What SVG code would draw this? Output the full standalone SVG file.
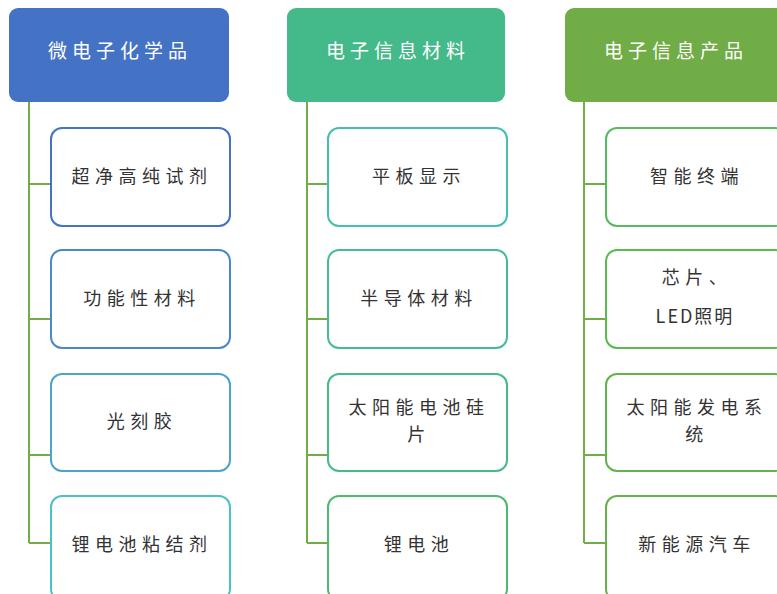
<svg xmlns="http://www.w3.org/2000/svg" width="777" height="594" viewBox="0 0 777 594">
<style>
.hd{stroke:none}
.ht{fill:#ffffff;font-family:"Noto Sans CJK SC","Liberation Sans",sans-serif;font-size:19px;letter-spacing:5px;text-anchor:middle}
.bx{fill:#ffffff;stroke-width:2}
.bt{fill:#333333;font-family:"Noto Sans CJK SC","Liberation Sans",sans-serif;font-size:18px;letter-spacing:5.5px;text-anchor:middle}
.cn{fill:none;stroke:#70AD47;stroke-width:2}
</style>
<rect width="777" height="594" fill="#ffffff"/>
<g id="connectors">
<path class="cn" d="M29 102V543M29 184H51M29 319H51M29 455H51M29 543H51"/>
<path class="cn" d="M307 102V543M307 184H328M307 319H328M307 455H328M307 543H328"/>
<path class="cn" d="M584 102V543M584 184H606M584 319H606M584 455H606M584 543H606"/>
</g>
<g id="h1"><rect class="hd" x="9" y="8" width="220" height="94" rx="9" fill="#4472C4"/><text class="ht" x="120" y="58">微电子化学品</text></g>
<g id="h2"><rect class="hd" x="287" y="8" width="218" height="94" rx="9" fill="#44B98A"/><text class="ht" x="398" y="58">电子信息材料</text></g>
<g id="h3"><rect class="hd" x="565" y="8" width="220" height="94" rx="9" fill="#70AD47"/><text class="ht" x="676" y="58">电子信息产品</text></g>

<g id="c1a"><rect class="bx" x="51" y="128" width="179" height="98" rx="11" stroke="#4472C4"/><text class="bt" x="142" y="183">超净高纯试剂</text></g>
<g id="c1b"><rect class="bx" x="51" y="250" width="179" height="98" rx="11" stroke="#4A88C9"/><text class="bt" x="142" y="305">功能性材料</text></g>
<g id="c1c"><rect class="bx" x="51" y="374" width="179" height="97" rx="11" stroke="#4BA5C9"/><text class="bt" x="142" y="428">光刻胶</text></g>
<g id="c1d"><rect class="bx" x="51" y="496" width="179" height="104" rx="11" stroke="#4BC1C6"/><text class="bt" x="142" y="551">锂电池粘结剂</text></g>

<g id="c2a"><rect class="bx" x="328" y="128" width="179" height="98" rx="11" stroke="#45BFAE"/><text class="bt" x="419" y="183">平板显示</text></g>
<g id="c2b"><rect class="bx" x="328" y="250" width="179" height="98" rx="11" stroke="#45BC98"/><text class="bt" x="419" y="305">半导体材料</text></g>
<g id="c2c"><rect class="bx" x="328" y="374" width="179" height="97" rx="11" stroke="#45BB88"/><text class="bt" x="419" y="414">太阳能电池硅</text><text class="bt" x="419" y="441">片</text></g>
<g id="c2d"><rect class="bx" x="328" y="496" width="179" height="104" rx="11" stroke="#4DBB6E"/><text class="bt" x="419" y="551">锂电池</text></g>

<g id="c3a"><rect class="bx" x="606" y="128" width="180" height="98" rx="11" stroke="#55BB5E"/><text class="bt" x="697" y="183">智能终端</text></g>
<g id="c3b"><rect class="bx" x="606" y="250" width="180" height="98" rx="11" stroke="#5CB950"/><text class="bt" x="697" y="284">芯片、</text><text class="bt" x="695" y="323" style="letter-spacing:2px">LED照明</text></g>
<g id="c3c"><rect class="bx" x="606" y="374" width="180" height="97" rx="11" stroke="#63B34C"/><text class="bt" x="697" y="414">太阳能发电系</text><text class="bt" x="697" y="441">统</text></g>
<g id="c3d"><rect class="bx" x="606" y="496" width="180" height="104" rx="11" stroke="#68B14A"/><text class="bt" x="697" y="551">新能源汽车</text></g>
</svg>
